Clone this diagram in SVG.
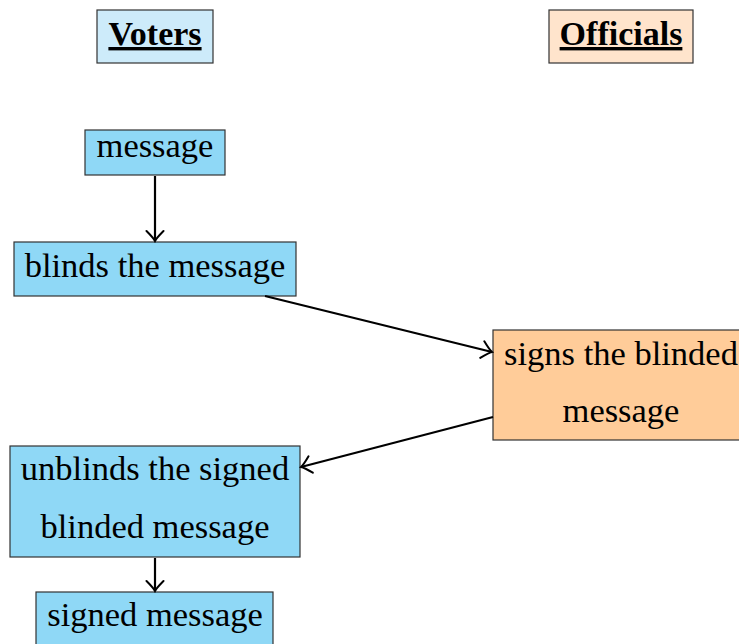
<svg xmlns="http://www.w3.org/2000/svg" width="739" height="644" viewBox="0 0 739 644">
  <style>
    .lbl { font-family: "Liberation Serif", "Times New Roman", serif; font-size: 34.5px; fill: #000; text-anchor: middle; }
    .hdr { font-weight: bold; text-decoration: underline; font-size: 34px; }
    .voter { fill: #8fd8f6; stroke: #333; stroke-width: 1.2; }
    .official { fill: #ffcc99; stroke: #333; stroke-width: 1.2; }
    .vhead { fill: #cdebfa; stroke: #333; stroke-width: 1.2; }
    .ohead { fill: #ffe4cc; stroke: #333; stroke-width: 1.2; }
    .edge { fill: none; stroke: #000; stroke-width: 2.2; marker-end: url(#tip); }
  </style>
  <defs>
    <marker id="tip" viewBox="-12 -10 14 20" markerWidth="14" markerHeight="20" refX="0" refY="0" orient="auto" markerUnits="userSpaceOnUse">
      <path d="M -10 -8.5 Q -3 -1.5 0 0 Q -3 1.5 -10 8.5" fill="none" stroke="#000" stroke-width="2" stroke-linecap="round"/>
    </marker>
  </defs>
  <rect width="739" height="644" fill="#fff"/>

  <g id="voters-header">
    <rect class="vhead" x="97" y="10" width="116" height="53"/>
    <text class="lbl hdr" x="155" y="45">Voters</text>
  </g>
  <g id="officials-header">
    <rect class="ohead" x="549" y="10" width="144" height="53"/>
    <text class="lbl hdr" x="621" y="45">Officials</text>
  </g>

  <g id="message">
    <rect class="voter" x="85" y="130" width="140" height="45"/>
    <text class="lbl" x="155" y="157">message</text>
  </g>
  <g id="blinds">
    <rect class="voter" x="14" y="242" width="282" height="54"/>
    <text class="lbl" x="155" y="277">blinds the message</text>
  </g>
  <g id="signs">
    <rect class="official" x="493" y="330" width="252" height="110"/>
    <text class="lbl" x="621" y="365">signs the blinded</text>
    <text class="lbl" x="621" y="422">message</text>
  </g>
  <g id="unblinds">
    <rect class="voter" x="10" y="446" width="290" height="111"/>
    <text class="lbl" x="155" y="480">unblinds the signed</text>
    <text class="lbl" x="155" y="538">blinded message</text>
  </g>
  <g id="signed">
    <rect class="voter" x="36" y="592" width="237" height="60"/>
    <text class="lbl" x="155" y="626">signed message</text>
  </g>

  <g id="connectors">
    <path class="edge" d="M 155 176 L 155 241"/>
    <path class="edge" d="M 265 296 L 492 352"/>
    <path class="edge" d="M 493 417 L 301 467"/>
    <path class="edge" d="M 155 558 L 155 591"/>
  </g>
</svg>
